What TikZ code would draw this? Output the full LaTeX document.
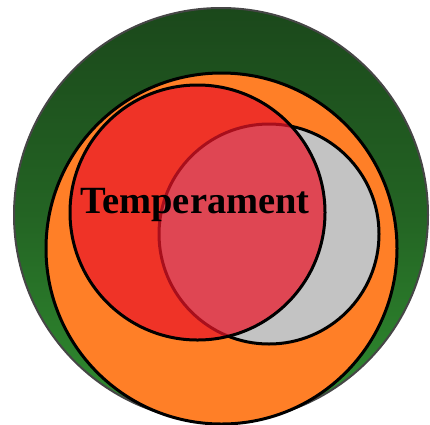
\documentclass[tikz,border=0pt]{standalone}
\usepackage{fontspec}
\setmainfont{Liberation Serif}
\definecolor{gtop}{RGB}{27,72,27}
\definecolor{gbot}{RGB}{48,142,48}
\definecolor{orangec}{RGB}{255,127,39}
\definecolor{grayc}{RGB}{195,195,195}
\definecolor{redc}{RGB}{234,22,40}
\definecolor{rimc}{RGB}{70,70,70}
\tikzset{ring/.style={draw=black,line width=3pt}}
\begin{document}
\begin{tikzpicture}[x=1pt,y=-1pt]
\useasboundingbox (0,0) rectangle (430,424);
\clip (0,0) rectangle (430,424);
\shade[top color=gtop,bottom color=gbot,middle color=gtop!60!gbot] (221,215) circle (207);
\draw[rimc,line width=2pt] (221,215) circle (207);
\fill[orangec] (221.5,248.5) circle (175.5);
\draw[ring] (221.5,248.5) circle (175.5);
\fill[grayc] (269,234) circle (110);
\draw[ring] (269,234) circle (110);
\fill[redc,fill opacity=0.72] (197.5,212.5) circle (127.5);
\draw[ring] (197.5,212.5) circle (127.5);
\node[font=\bfseries\fontsize{38.5}{42}\selectfont,anchor=base] (t) at (195,213) {Temperament};
\end{tikzpicture}
\end{document}
